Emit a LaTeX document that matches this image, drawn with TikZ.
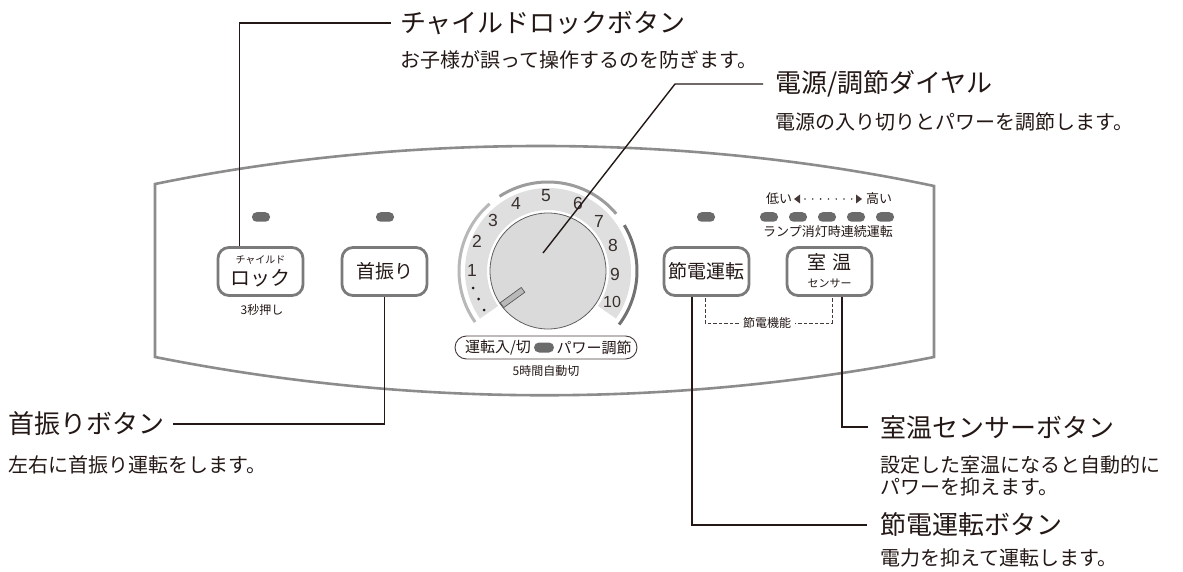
\documentclass[tikz,border=0pt]{standalone}
\usepackage{fontspec}
\setmainfont{Noto Sans CJK JP}
\newfontfamily\digitfont{Liberation Sans}
\usetikzlibrary{calc}
\definecolor{ink}{HTML}{231815}
\definecolor{panelgray}{HTML}{8C8C8C}
\definecolor{btngray}{HTML}{7A7A7A}
\definecolor{ledgray}{HTML}{6B6B6B}
\definecolor{bandgray}{HTML}{DFDFDF}
\definecolor{dialfill}{HTML}{DADADA}
\definecolor{arcA}{HTML}{B8B8B8}
\definecolor{arcB}{HTML}{9C9C9C}
\definecolor{arcC}{HTML}{727272}
\tikzset{
  panel/.style={draw=panelgray, line width=2.6pt},
  btn/.style={draw=btngray, line width=2.8pt, rounded corners=11pt, fill=white, minimum width=85pt, minimum height=48pt, inner sep=0pt},
  led/.style={fill=ledgray, rounded corners=4.5pt, minimum width=18pt, minimum height=9.5pt, inner sep=0pt},
  leader/.style={draw=ink, line width=1.4pt},
  dashbr/.style={draw=ink!85, line width=0.9pt, dash pattern=on 3.5pt off 2pt},
  title/.style={anchor=west, inner sep=0pt, text=ink, font=\fontsize{26}{30}\selectfont},
  desc/.style={anchor=west, inner sep=0pt, text=ink, font=\fontsize{20}{24}\selectfont},
  smalltxt/.style={inner sep=0pt, text=ink, font=\fontsize{12}{14}\selectfont},
  numtxt/.style={inner sep=0pt, text=ink!90, font=\digitfont\fontsize{17.5}{18}\selectfont},
  lbl/.style={inner sep=0pt, text=ink, font=\fontsize{19}{20}\selectfont},
  dialarc/.style={line width=3pt},
}
\begin{document}
\begin{tikzpicture}[x=1pt,y=-1pt]
\useasboundingbox (0,0) rectangle (1183,572);
% panel outline
\draw[panel] (155,184) .. controls (405,133) and (684,133) .. (934,186)
  -- (934,357) .. controls (677,408) and (412,408) .. (155,357) -- cycle;
% dial
\coordinate (dc) at (548,271);
\fill[bandgray] ($(dc)+(35:83)$) arc[start angle=35, end angle=-215, radius=83]
  -- ($(dc)+(-215:61)$) arc[start angle=-215, end angle=35, radius=61] -- cycle;
\draw[dialarc, draw=arcA] ($(dc)+(-215:89)$) arc[start angle=-215, end angle=-131, radius=89];
\draw[dialarc, draw=arcB] ($(dc)+(-123:89)$) arc[start angle=-123, end angle=-40, radius=89];
\draw[dialarc, draw=arcC] ($(dc)+(-31:89)$) arc[start angle=-31, end angle=37, radius=89];
\node[circle, minimum size=116pt, inner sep=0pt, fill=dialfill, draw=gray!75!black, line width=0.8pt] (dial) at (dc) {};
\node[draw=gray!60!black, fill=gray!55, line width=0.6pt, minimum width=26pt, minimum height=6pt, inner sep=0pt, rotate=36] (ind) at (512.5,297.5) {};
\node[numtxt] (n1) at (472,270) {1};
\node[numtxt] (n2) at (477,241) {2};
\node[numtxt] (n3) at (493,220) {3};
\node[numtxt] (n4) at (516,203) {4};
\node[numtxt] (n5) at (546,196) {5};
\node[numtxt] (n6) at (578,203) {6};
\node[numtxt] (n7) at (599,221) {7};
\node[numtxt] (n8) at (613,245) {8};
\node[numtxt] (n9) at (615,274) {9};
\node[numtxt, font=\digitfont\fontsize{16}{16}\selectfont] (n10) at (612,302) {10};
\fill[ink] (473,288) circle (1.5pt) (478.5,299) circle (1.5pt) (484,310) circle (1.5pt);
% pill
\node[draw=ink!85, line width=0.9pt, rounded corners=11.5pt, minimum width=182pt, minimum height=23pt, inner sep=0pt] (pill) at (546,347.5) {};
\node[inner sep=0pt, text=ink, font=\fontsize{15}{16}\selectfont] (pl) at (498,347.5) {運転入/切};
\node[led, minimum width=20pt, minimum height=10pt, rounded corners=5pt] (pled) at (544,347.5) {};
\node[inner sep=0pt, text=ink, font=\fontsize{15}{16}\selectfont] (pr) at (594,347.5) {パワー調節};
\node[smalltxt] (auto) at (546,371) {5時間自動切};
% LEDs
\node[led] (led1) at (261,217) {};
\node[led] (led2) at (385,217) {};
\node[led] (led3) at (706,217) {};
\node[led] (lv1) at (769,217) {};
\node[led] (lv2) at (798,217) {};
\node[led] (lv3) at (827,217) {};
\node[led] (lv4) at (856,217) {};
\node[led] (lv5) at (885,217) {};
\node[smalltxt, font=\fontsize{13}{14}\selectfont] (low) at (779,199) {低い};
\node[smalltxt, font=\fontsize{13}{14}\selectfont] (high) at (879,199) {高い};
\fill[ink!85] (794,199) -- (800,194.5) -- (800,203.5) -- cycle;
\fill[ink!85] (862,199) -- (856,194.5) -- (856,203.5) -- cycle;
\foreach \i in {0,...,6} \fill[ink!85] (805+\i*7.8,199) circle (0.9pt);
\node[smalltxt, font=\fontsize{13}{14}\selectfont] (lamp) at (828,232) {ランプ消灯時連続運転};
% buttons
\node[btn] (lockbtn) at (260.5,271.5) {};
\node[inner sep=0pt, text=ink, font=\fontsize{10}{11}\selectfont] (lockA) at (260.5,260) {チャイルド};
\node[lbl, font=\fontsize{20}{21}\selectfont] (lockB) at (260.5,278) {ロック};
\node[smalltxt] (press) at (262,310) {3秒押し};
\node[btn] (swingbtn) at (384.5,271.5) {};
\node[lbl] (swingtxt) at (384.5,271) {首振り};
\node[btn] (savebtn) at (706.5,271.5) {};
\node[lbl] (savetxt) at (706.5,271) {節電運転};
\node[btn] (tempbtn) at (829.5,271.5) {};
\node[lbl] (tempA) at (829.5,262) {室\hspace{6pt}温};
\node[inner sep=0pt, text=ink, font=\fontsize{11}{12}\selectfont] (tempB) at (829.5,283) {センサー};
% eco bracket
\node[smalltxt, fill=white, inner xsep=4pt] (eco) at (767,323) {節電機能};
\draw[dashbr] ($(savebtn.south)+(-1.5,1.5)$) |- (eco.west);
\draw[dashbr] ($(tempbtn.south)+(2.5,1.5)$) |- (eco.east);
% titles and descriptions
\node[title] (t1) at (400,23) {チャイルドロックボタン};
\node[desc] (d1) at (400,60) {お子様が誤って操作するのを防ぎます。};
\node[title] (t2) at (775,84) {電源/調節ダイヤル};
\node[desc] (d2) at (775,122) {電源の入り切りとパワーを調節します。};
\node[title] (t3) at (8,424) {首振りボタン};
\node[desc] (d3) at (8,465) {左右に首振り運転をします。};
\node[title] (t4) at (880,427) {室温センサーボタン};
\node[desc] (d4a) at (880,465) {設定した室温になると自動的に};
\node[desc] (d4b) at (880,487) {パワーを抑えます。};
\node[title] (t5) at (880,525) {節電運転ボタン};
\node[desc] (d5) at (880,558) {電力を抑えて運転します。};
% leaders
\coordinate (dialpt) at (543,253);
\coordinate (dialkink) at (675,84);
\draw[leader] ($(lockbtn.north)+(-21,0)$) |- ($(t1.west)+(-9,0)$);
\draw[leader] (swingbtn.south) |- ($(t3.east)+(9,0)$);
\draw[leader] (dialpt) -- (dialkink) -- ($(t2.west)+(-12,0)$);
\draw[leader] ($(tempbtn.south)+(12.5,0)$) |- ($(t4.west)+(-12,0)$);
\draw[leader] ($(savebtn.south)+(-14.5,0)$) |- ($(t5.west)+(-13,0)$);
\end{tikzpicture}
\end{document}
